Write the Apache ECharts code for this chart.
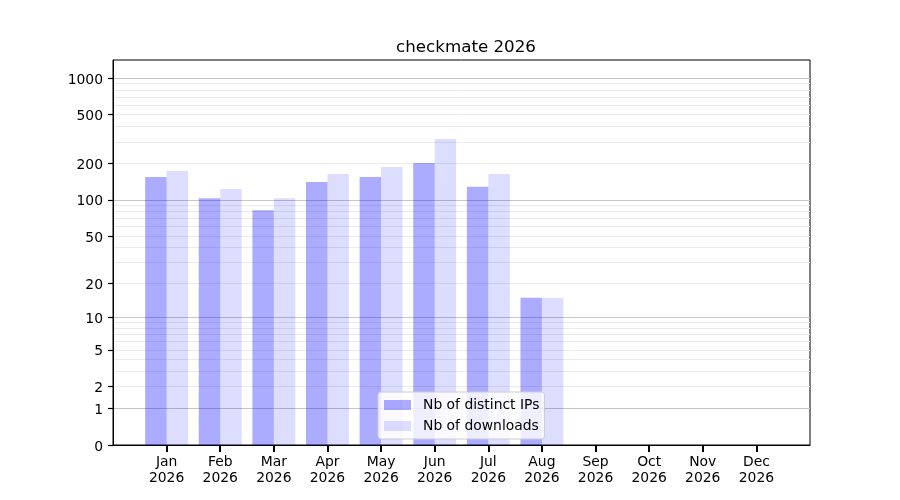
<!DOCTYPE html>
<html>
<head>
<meta charset="utf-8">
<script src="https://cdn.jsdelivr.net/npm/echarts@6/dist/echarts.min.js"></script>
<style>
  html, body { margin: 0; padding: 0; background: #fff; }
  #container { width: 900px; height: 500px; }
</style>
</head>
<body>
<div id="container"></div>
<script>
// data
var months = ['Jan', 'Feb', 'Mar', 'Apr', 'May', 'Jun', 'Jul', 'Aug', 'Sep', 'Oct', 'Nov', 'Dec'];
var year = '2026';
var distinctIPs = [154, 103, 82, 140, 154, 201, 128, 15, 0, 0, 0, 0];
var downloads = [173, 123, 103, 163, 186, 316, 163, 15, 0, 0, 0, 0];
var yTicks = [0, 1, 2, 5, 10, 20, 50, 100, 200, 500, 1000];
var majorGrid = [1, 10, 100, 1000];
var minorGrid = [2, 3, 4, 5, 6, 7, 8, 9, 20, 30, 40, 50, 60, 70, 80, 90, 200, 300, 400, 500, 600, 700, 800, 900];
var yTop = 1403;

// the y scale is log10(1 + v)
function tf(v) { return Math.log10(1 + v); }

// one empty slot on each side, like the picture's x margins
var xCats = [''].concat(months.map(function (m) { return m + '\n' + year; }), ['']);
function pad(arr) { return [null].concat(arr.map(tf), [null]); }
function inner(i) { return i > 0 && i < xCats.length - 1; }

var font = 'DejaVu Sans';
var myChart = echarts.init(document.getElementById('container'));

// hidden y axes that only carry grid lines
function gridAxis(values, color) {
	return {
		type: 'value',
		min: 0,
		max: tf(yTop),
		axisLine: { show: false },
		axisLabel: { show: false, customValues: values.map(tf) },
		axisTick: { show: false, customValues: values.map(tf) },
		splitLine: { show: true, lineStyle: { color: color, width: 1 } }
	};
}

myChart.setOption({
	animation: false,
	title: {
		text: 'checkmate ' + year,
		left: 461,
		top: 34,
		textAlign: 'center',
		textStyle: { fontFamily: font, fontSize: 16.7, fontWeight: 'normal', color: '#000' }
	},
	legend: {
		data: ['Nb of distinct IPs', 'Nb of downloads'],
		orient: 'vertical',
		left: 378,
		top: 392,
		itemWidth: 27,
		itemHeight: 10,
		itemGap: 5,
		icon: 'rect',
		padding: [5, 5, 5, 6],
		backgroundColor: 'rgba(255,255,255,0.8)',
		borderColor: '#cccccc',
		borderWidth: 1,
		borderRadius: 3,
		textStyle: { fontFamily: font, fontSize: 13.9, color: '#000', lineHeight: 16, padding: [0, 0, 0, 7] }
	},
	grid: {
		left: 113,
		right: 90,
		top: 60,
		bottom: 55,
		show: true,
		borderColor: '#000',
		borderWidth: 1,
		backgroundColor: 'transparent'
	},
	xAxis: {
		type: 'category',
		data: xCats,
		boundaryGap: false,
		splitLine: { show: false },
		axisLine: { show: true, onZero: false, lineStyle: { color: '#000', width: 1 } },
		axisTick: {
			show: true,
			length: 7,
			lineStyle: { color: '#000', width: 2 }
		},
		axisLabel: {
			interval: function (i) { return inner(i); },
			margin: 9,
			fontFamily: font,
			fontSize: 13.9,
			lineHeight: 16.5,
			color: '#000'
		}
	},
	yAxis: [{
		type: 'value',
		min: 0,
		max: tf(yTop),
		splitLine: { show: false },
		axisLine: { show: true, onZero: false, lineStyle: { color: '#000', width: 1 } },
		axisTick: {
			show: true,
			length: 5,
			customValues: yTicks.map(tf),
			lineStyle: { color: '#000', width: 1.2 }
		},
		axisLabel: {
			customValues: yTicks.map(tf),
			margin: 10,
			fontFamily: font,
			fontSize: 13.9,
			color: '#000',
			rich: { t: { fontFamily: font, fontSize: 13.9, color: '#000', padding: [4, 0, 0, 0] } },
			formatter: function (v) {
				var best = yTicks[0];
				yTicks.forEach(function (t) {
					if (Math.abs(tf(t) - v) < Math.abs(tf(best) - v)) best = t;
				});
				return '{t|' + best + '}';
			}
		}
	}, gridAxis(minorGrid, '#ebebeb'), gridAxis(majorGrid, '#c6c6c6')],
	series: [{
		name: 'Nb of distinct IPs',
		type: 'bar',
		z: 2,
		barWidth: 21.45,
		barGap: '0%',
		itemStyle: { color: 'rgba(0,0,255,0.33)' },
		data: pad(distinctIPs)
	}, {
		name: 'Nb of downloads',
		type: 'bar',
		z: 2,
		barWidth: 21.45,
		barGap: '0%',
		itemStyle: { color: 'rgba(0,0,255,0.135)' },
		data: pad(downloads)
	}]
});
</script>
</body>
</html>
